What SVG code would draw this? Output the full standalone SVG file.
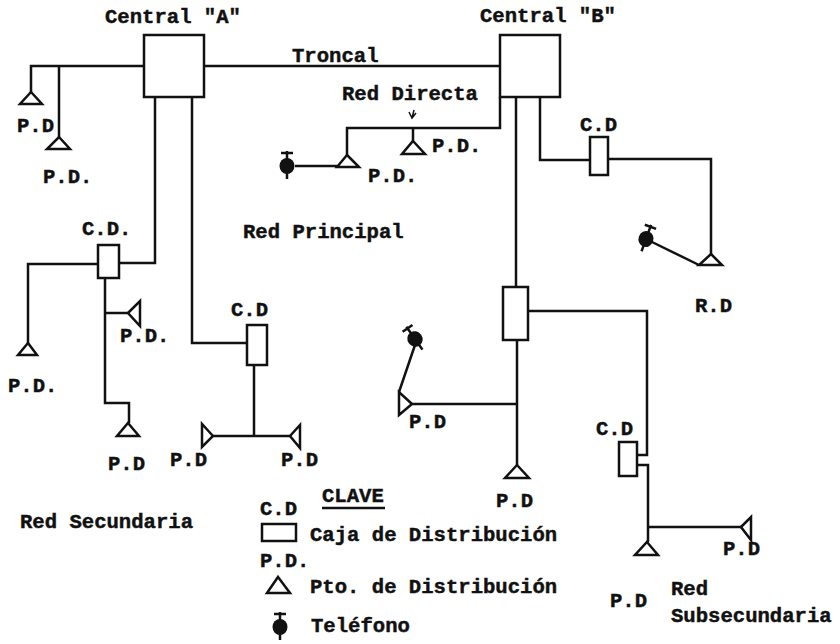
<svg xmlns="http://www.w3.org/2000/svg" width="840" height="644" viewBox="0 0 840 644">
<defs>
<style>
text{font-family:"Liberation Mono","DejaVu Sans Mono",monospace;font-weight:700;font-size:20.6px;fill:#111;stroke:#111;stroke-width:.45}
.n{fill:#fff;stroke:#111;stroke-width:2.5}
.c{fill:none;stroke:#111;stroke-width:2.5}
.p{fill:#111}
.s{fill:#333}
</style>
<g id="phone"><ellipse class="p" cx="0" cy="0" rx="7.5" ry="8"/><path class="c" d="M0-7V-15M-6-13H6M0 7V13"/></g>
</defs>
<rect width="840" height="644" fill="#fff"/>
<g id="connectors">
<path class="c" d="M204 66H500"/>
<path class="c" d="M144 66H31V92M59 66V137"/>
<path class="c" d="M155 97V263H119"/>
<path class="c" d="M192 97V343H247"/>
<path class="c" d="M98 264H28V343"/>
<path class="c" d="M105 278V403H129V423"/>
<path class="c" d="M105 313H129"/>
<path class="c" d="M254 365V436M213 436H290"/>
<path class="c" d="M500 97V128H347V155M413 128V141"/>
<path class="c" d="M295 166H337"/>
<path class="c" d="M540 97V160H590M608 159H711V254"/>
<path class="c" d="M652 242L699 265"/>
<path class="c" d="M516 97V287M517 340V465"/>
<path class="c" d="M517 404H412M399 392L415 345"/>
<path class="c" d="M528 311H647V455H637M637 465H648V542M648 527H741"/>
<path fill="none" stroke="#111" stroke-width="1.5" d="M414 110L412 118M409 112L412 118L416 113"/>
<path class="c" d="M322 508H385"/>
</g>
<g id="central-a"><rect class="n" x="144" y="35" width="60" height="62"/><text x="105" y="23">Central "A"</text></g>
<g id="central-b"><rect class="n" x="500" y="35" width="60" height="62"/><text x="480" y="22">Central "B"</text></g>
<g id="cd1"><rect class="n" x="98" y="245" width="21" height="33"/><text x="82" y="235">C.D.</text></g>
<g id="cd2"><rect class="n" x="247" y="325" width="20" height="40"/><text x="231" y="316">C.D</text></g>
<g id="cd3"><rect class="n" x="590" y="137" width="18" height="38"/><text x="580" y="131">C.D</text></g>
<g id="cd4"><rect class="n" x="503" y="287" width="25" height="53"/></g>
<g id="cd5"><rect class="n" x="619" y="442" width="18" height="34"/><text x="596" y="435">C.D</text></g>
<g id="pd1"><path class="n" d="M31 92L42 104H20Z"/><text x="17" y="132">P.D</text></g>
<g id="pd2"><path class="n" d="M59 137L70 149H47Z"/><text x="43" y="183">P.D.</text></g>
<g id="pd3"><path class="n" d="M28 343L37 355H18Z"/><text x="8" y="392">P.D.</text></g>
<g id="pd4"><path class="n" d="M128 313L140 301V326Z"/><text x="120" y="342">P.D.</text></g>
<g id="pd5"><path class="n" d="M128 423L139 436H117Z"/><text x="108" y="470">P.D</text></g>
<g id="pd6"><path class="n" d="M213 436L202 424V447Z"/><text x="170" y="466">P.D</text></g>
<g id="pd7"><path class="n" d="M290 436L300 425V448Z"/><text x="281" y="466">P.D</text></g>
<g id="pd8"><path class="n" d="M347 155L359 167H337Z"/><text x="368" y="182">P.D.</text></g>
<g id="pd9"><path class="n" d="M413 141L425 154H402Z"/><text x="432" y="152">P.D.</text></g>
<g id="pd10"><path class="n" d="M711 254L722 265H699Z"/><text x="695" y="312">R.D</text></g>
<g id="pd11"><path class="n" d="M412 404L399 392V415Z"/><text x="409" y="428">P.D</text></g>
<g id="pd12"><path class="n" d="M517 465L529 478H505Z"/><text x="496" y="507">P.D</text></g>
<g id="pd13"><path class="n" d="M647 542L658 555H635Z"/><text x="610" y="607">P.D</text></g>
<g id="pd14"><path class="n" d="M741 527L751 517V540Z"/><text x="723" y="555">P.D</text></g>
<g id="tel1"><use href="#phone" x="287" y="166"/></g>
<g id="tel2"><use href="#phone" transform="translate(646 239) rotate(20)"/></g>
<g id="tel3"><use href="#phone" transform="translate(415 339) rotate(-35)"/></g>
<g id="labels">
<text x="292" y="62">Troncal</text>
<text x="342" y="100">Red Directa</text>
<text x="243" y="238">Red Principal</text>
<text x="20" y="528">Red Secundaria</text>
<text x="671" y="595">Red</text>
<text x="671" y="622">Subsecundaria</text>
</g>
<g id="legend">
<text x="322" y="502">CLAVE</text>
<text x="260" y="515">C.D</text>
<rect class="n" x="262" y="524" width="34" height="17"/>
<text x="310" y="541">Caja de Distribución</text>
<text x="260" y="567">P.D.</text>
<path class="n" d="M278 577L290 593H267Z"/>
<text x="310" y="593">Pto. de Distribución</text>
<use href="#phone" x="280" y="627"/>
<text x="311" y="632">Teléfono</text>
</g>
</svg>
